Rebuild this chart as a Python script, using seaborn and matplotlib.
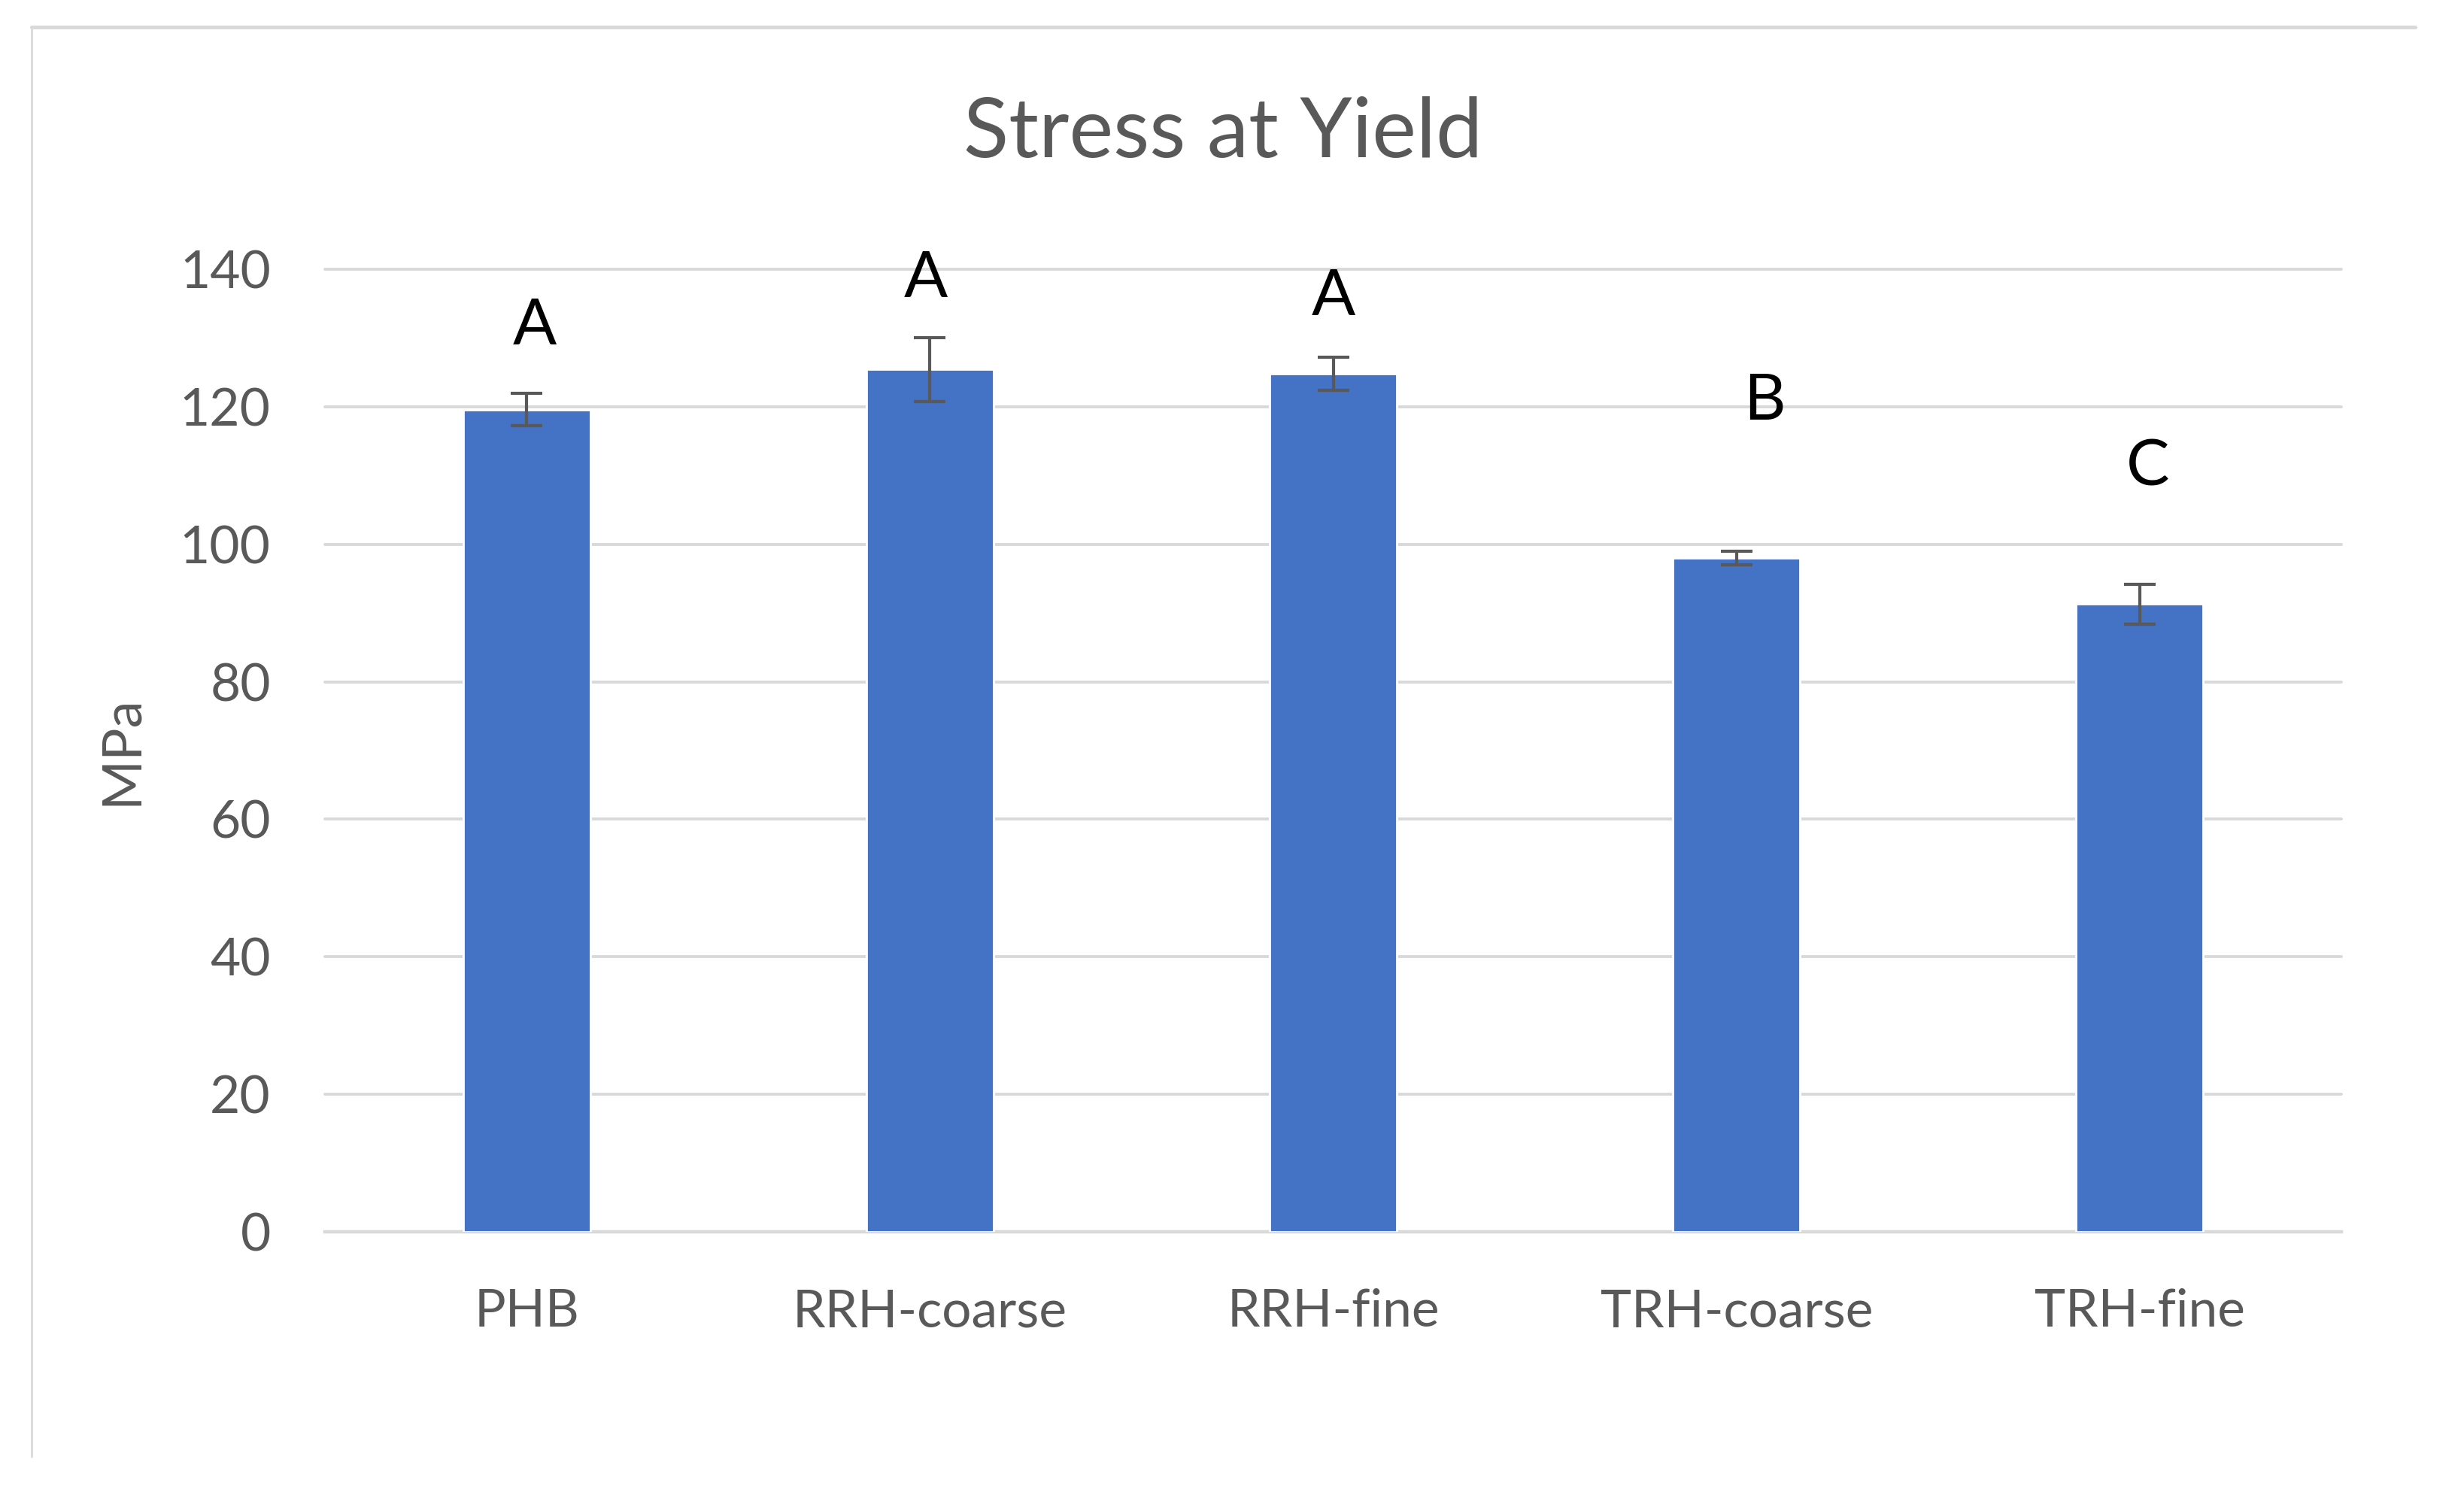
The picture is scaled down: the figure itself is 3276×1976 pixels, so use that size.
import matplotlib
matplotlib.use("Agg")
import matplotlib.pyplot as plt
from matplotlib.lines import Line2D
import numpy as np
import pandas as pd
import seaborn as sns

# values
samples = ["PHB", "RRH-coarse", "RRH-fine", "TRH-coarse", "TRH-fine"]
stress_mean = [119.6, 125.4, 124.8, 98.0, 91.3]
stress_err = [2.3, 4.7, 2.4, 1.0, 2.9]
groups = ["A", "A", "A", "B", "C"]
group_y = [129.1, 136.0, 133.3, 118.1, 108.6]
group_dx = [0.02, -0.01, 0.0, 0.07, 0.02]

df = pd.DataFrame({"sample": samples, "mpa": stress_mean, "err": stress_err})

sns.set_style("white")
plt.rcParams["font.family"] = ["Lato", "DejaVu Sans"]

grey_txt = "#595959"
grid_col = "#d9d9d9"

fig = plt.figure(figsize=(16.38, 9.88), dpi=200)
ax = fig.add_axes([432 / 3276, 1 - 1638 / 1976, (3113 - 432) / 3276, (1638 - 358) / 1976])

sns.barplot(data=df, x="sample", y="mpa", color="#4472C4", width=0.315,
            saturation=1, errorbar=None, ax=ax, zorder=3)
ax.errorbar(np.arange(len(samples)), df["mpa"], yerr=df["err"], fmt="none",
            ecolor=grey_txt, elinewidth=1.5, capsize=7.5, capthick=1.5, zorder=4)

# significance letters
for i, (g, gy, dx) in enumerate(zip(groups, group_y, group_dx)):
    ax.text(i + dx, gy, g, ha="center", va="baseline", fontsize=31, color="black")

ax.set_ylim(0, 140)
ax.set_xlim(-0.5, len(samples) - 0.5)
ax.set_yticks(range(0, 141, 20))
ax.yaxis.grid(True, color=grid_col, linewidth=1.4, zorder=0)
ax.set_axisbelow(True)
for g in ax.get_ygridlines():
    g.set_clip_on(False)
for s in ["top", "right", "left"]:
    ax.spines[s].set_visible(False)
ax.spines["bottom"].set_color(grid_col)
ax.spines["bottom"].set_linewidth(1.6)

ax.tick_params(axis="both", length=0, labelsize=25, labelcolor=grey_txt)
ax.tick_params(axis="y", pad=26)
ax.tick_params(axis="x", pad=27)
ax.set_xlabel("")
ax.set_ylabel("MPa", fontsize=26, color=grey_txt, labelpad=16)

fig.text(1626 / 3276, 1 - 178 / 1976, "Stress at Yield", ha="center", va="center",
         fontsize=40, color=grey_txt)

# light frame of the chart area (top and left edges visible)
fig.add_artist(Line2D([42 / 3276, 3211 / 3276], [1 - 36 / 1976, 1 - 36 / 1976],
                      color=grid_col, linewidth=1.8, transform=fig.transFigure))
fig.add_artist(Line2D([42 / 3276, 42 / 3276], [1 - 36 / 1976, 1 - 1937 / 1976],
                      color=grid_col, linewidth=1.0, transform=fig.transFigure))

fig.savefig("out.png", dpi=200, facecolor="white")
